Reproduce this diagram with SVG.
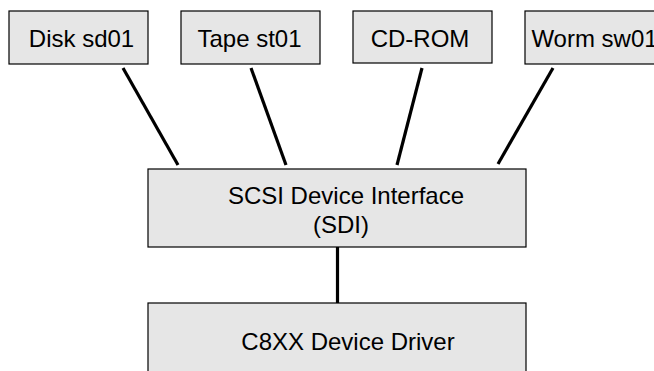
<svg xmlns="http://www.w3.org/2000/svg" width="654" height="371" viewBox="0 0 654 371">
<style>
.box{fill:#e6e6e6;stroke:#000;stroke-width:1.2}
.lbl{font-family:"Liberation Sans",Arial,sans-serif;font-size:24px;fill:#000;text-anchor:middle}
.conn{stroke:#000;stroke-width:3.2;fill:none}
</style>
<rect width="654" height="371" fill="#fff"/>
<g id="connectors">
<line class="conn" x1="123" y1="68" x2="178" y2="165"/>
<line class="conn" x1="251" y1="68" x2="286" y2="165"/>
<line class="conn" x1="422" y1="68" x2="397" y2="165"/>
<line class="conn" x1="553" y1="68" x2="498" y2="164"/>
<line class="conn" x1="337.5" y1="247" x2="337.5" y2="303"/>
</g>
<g id="disk">
<rect class="box" x="9" y="11" width="139" height="53"/>
<text class="lbl" x="81.5" y="46.5">Disk sd01</text>
</g>
<g id="tape">
<rect class="box" x="181" y="11" width="139" height="53"/>
<text class="lbl" x="249.5" y="46.5">Tape st01</text>
</g>
<g id="cdrom">
<rect class="box" x="353" y="11" width="139" height="52"/>
<text class="lbl" x="420" y="46.5">CD-ROM</text>
</g>
<g id="worm">
<rect class="box" x="525" y="11" width="139" height="53"/>
<text class="lbl" x="594.5" y="46.5">Worm sw01</text>
</g>
<g id="sdi">
<rect class="box" x="148" y="169" width="378" height="78"/>
<text class="lbl" x="346" y="204">SCSI Device Interface</text>
<text class="lbl" x="341" y="233">(SDI)</text>
</g>
<g id="driver">
<rect class="box" x="148" y="303" width="378" height="80"/>
<text class="lbl" x="348" y="350">C8XX Device Driver</text>
</g>
</svg>
